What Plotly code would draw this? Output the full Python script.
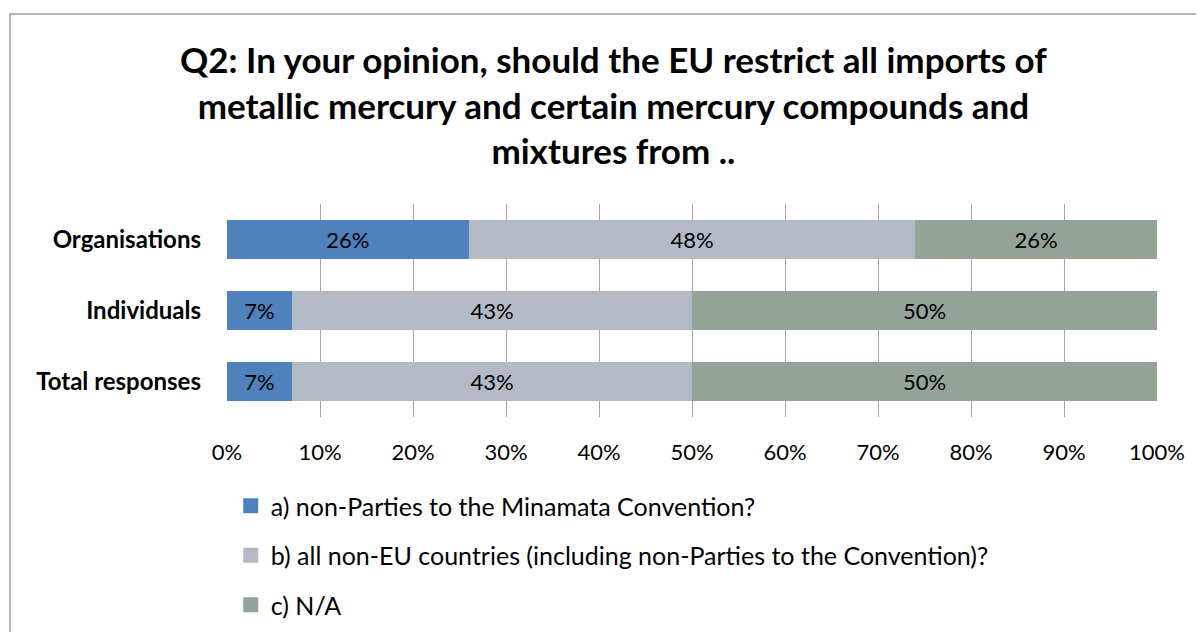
import plotly.graph_objects as go

categories = ["Total responses", "Individuals", "Organisations"]
series_names = [
    "a) non-Parties to the Minamata Convention?",
    "b) all non-EU countries (including non-Parties to the Convention)?",
    "c) N/A",
]
series_a = [7, 7, 26]
series_b = [43, 43, 48]
series_c = [50, 50, 26]
tick_vals = [0, 10, 20, 30, 40, 50, 60, 70, 80, 90, 100]
tick_text = [f"{v}%" for v in tick_vals]
colors = ["#4F81BD", "#B3BAC6", "#93A398"]

FONT = "Lato"

fig = go.Figure()
for i, (name, vals) in enumerate(zip(series_names, [series_a, series_b, series_c])):
    fig.add_trace(go.Bar(
        y=categories, x=vals, name=name, orientation="h",
        marker=dict(color=colors[i], line=dict(width=0)),
        text=[f"{v}%" for v in vals], textposition="inside",
        insidetextanchor="middle",
        textfont=dict(color="black", size=22, family=FONT),
        legendgroup=f"g{i}", width=0.56, showlegend=False,
    ))
    # legend entry with a larger square swatch
    fig.add_trace(go.Scatter(
        x=[None], y=[None], mode="markers", name=name,
        marker=dict(symbol="square", size=15, color=colors[i]),
        legendgroup=f"g{i}", showlegend=True,
    ))

fig.update_layout(
    barmode="stack",
    width=1204, height=632,
    margin=dict(l=219, r=55, t=196, b=223),
    plot_bgcolor="white", paper_bgcolor="white",
    font=dict(family=FONT, color="black", size=22),
    showlegend=True,
    legend=dict(x=0.004, y=-0.31, xanchor="left", yanchor="top",
                orientation="v", traceorder="grouped",
                font=dict(size=25, family=FONT), tracegroupgap=14,
                itemsizing="trace",
                bgcolor="rgba(0,0,0,0)"),
    uniformtext=dict(minsize=10, mode="show"),
)
fig.update_xaxes(range=[0, 100], tickvals=tick_vals, ticktext=tick_text,
                 showgrid=True, gridcolor="#A6A6A6", gridwidth=1,
                 zeroline=False, showline=False, ticks="",
                 ticklabelstandoff=20, tickfont=dict(size=22, family=FONT))
fig.update_yaxes(categoryorder="array", categoryarray=categories,
                 showgrid=False, zeroline=False, showline=False, ticks="",
                 ticklabelstandoff=25,
                 tickfont=dict(size=24, family=FONT, weight="bold"))

fig.add_annotation(
    text="<b>Q2: In your opinion, should the EU restrict all imports of<br>"
         "metallic mercury and certain mercury compounds and<br>mixtures from ..</b>",
    xref="paper", yref="paper", x=0.416, y=1.468, xanchor="center", yanchor="middle",
    showarrow=False, font=dict(size=35, family=FONT, color="black"),
    align="center")

fig.add_shape(type="rect", xref="paper", yref="paper",
              x0=-0.2333, x1=1.2, y0=-1.2, y1=1.892,
              line=dict(color="#A0A0A0", width=1.5), fillcolor="rgba(0,0,0,0)",
              layer="below")

fig.write_html("out.html")
